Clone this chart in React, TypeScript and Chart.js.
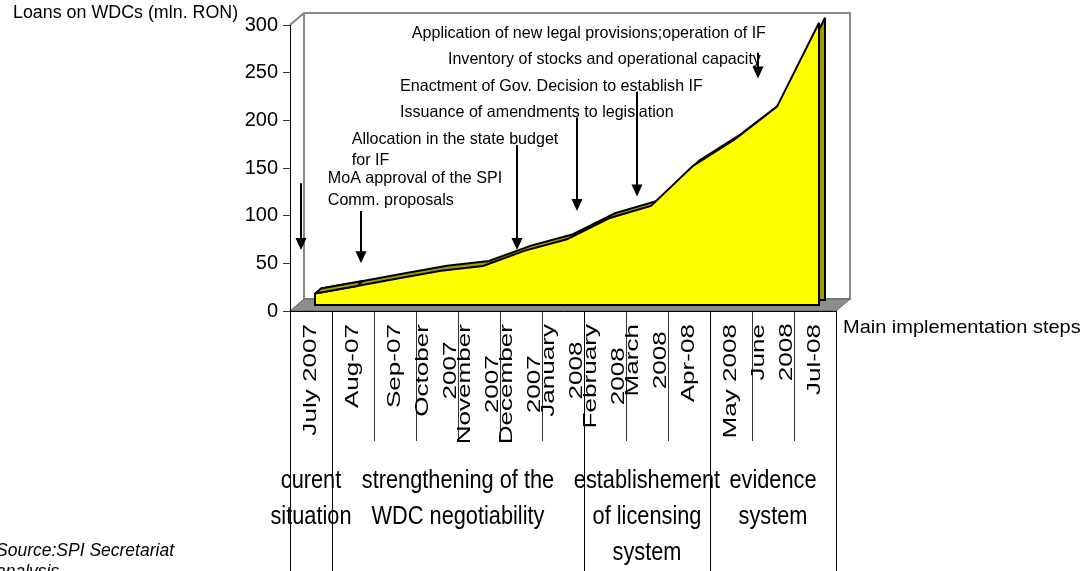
import React, { useEffect, useRef } from 'react';
import { Chart, registerables } from 'chart.js';

const FONT = "'Liberation Sans', Arial, Helvetica, sans-serif";

// ---------- data ----------
const categories: string[][] = [
  ['July 2007'],
  ['Aug-07'],
  ['Sep-07'],
  ['October', '2007'],
  ['November', '2007'],
  ['December', '2007'],
  ['January', '2008'],
  ['February', '2008'],
  ['March', '2008'],
  ['Apr-08'],
  ['May 2008'],
  ['June', '2008'],
  ['Jul-08'],
];
const loanValues: number[] = [12, 20, 28, 36, 41, 57, 69, 91, 104, 146, 174, 208, 296];
const yMin = 0;
const yMax = 300;
const yStep = 50;
const yAxisTitle = 'Loans on WDCs (mln. RON)';
const xAxisTitle = 'Main implementation steps';
const stageLabels: string[][] = [
  ['curent', 'situation'],
  ['strengthening of the', 'WDC negotiability'],
  ['establishement', 'of licensing', 'system'],
  ['evidence', 'system'],
];
const stageBoundaries: number[] = [0, 1, 7, 10, 13];
const noteTexts: string[] = [
  'Application of new legal provisions;operation of IF',
  'Inventory of stocks and operational capacity',
  'Enactment of Gov. Decision to establish IF',
  'Issuance of amendments to legislation',
  'Allocation in the state budget',
  'for IF',
  'MoA approval of the SPI',
  'Comm. proposals',
];
const sourceLines: string[] = ['Source:SPI Secretariat', 'analysis'];

// ---------- layout (in data coordinates: category index, value) ----------
const noteAnchors: [number, number][] = [
  [2.4, 286], [3.26, 259], [2.12, 231], [2.12, 203], [0.97, 175], [0.97, 153], [0.4, 134], [0.4, 111],
];
const arrowSpecs: [number, number, number][] = [
  [-0.245, 134, 64],
  [1.194, 105, 50],
  [4.908, 174, 64],
  [6.339, 203, 105],
  [7.771, 230, 120],
  [10.633, 271, 244],
];

// 3D depth shifts per dataset index: [dx, dy]
const SHIFT: Record<number, [number, number]> = { 0: [4, -6], 1: [10, -11] };
const DEPTH: [number, number] = [14, -12];

const depthPlugin = {
  id: 'depthShift',
  beforeDatasetDraw(chart: any, args: any) {
    const s = SHIFT[args.index];
    if (!s) return;
    chart.ctx.save();
    chart.ctx.translate(s[0], s[1]);
  },
  afterDatasetDraw(chart: any, args: any) {
    const s = SHIFT[args.index];
    if (!s) return;
    const ctx = chart.ctx;
    const pts = args.meta.data;
    const y0 = chart.scales.y.getPixelForValue(0);
    const last = pts[pts.length - 1];
    ctx.beginPath();
    ctx.moveTo(pts[0].x, pts[0].y);
    ctx.lineTo(pts[0].x, y0);
    ctx.lineTo(last.x, y0);
    ctx.lineTo(last.x, last.y);
    ctx.strokeStyle = '#000';
    ctx.lineWidth = 2;
    ctx.stroke();
    ctx.restore();
  },
};

Chart.register(depthPlugin);
Chart.register(...registerables);

function drawText(ctx: CanvasRenderingContext2D, text: string, x: number, y: number, sx: number, align: CanvasTextAlign) {
  ctx.save();
  ctx.translate(x, y);
  ctx.scale(sx, 1);
  ctx.textAlign = align;
  ctx.fillText(text, 0, 0);
  ctx.restore();
}

const wallPlugin = {
  id: 'wall',
  beforeDraw(chart: any) {
    const ctx = chart.ctx as CanvasRenderingContext2D;
    const { left: L, right: R, top: T, bottom: B } = chart.chartArea;
    const [dx, dy] = DEPTH;
    ctx.save();
    // left side wall
    ctx.beginPath();
    ctx.moveTo(L, T);
    ctx.lineTo(L + dx, T + dy);
    ctx.lineTo(L + dx, B + dy);
    ctx.lineTo(L, B);
    ctx.closePath();
    ctx.fillStyle = '#ffffff';
    ctx.fill();
    ctx.beginPath();
    ctx.moveTo(L, T);
    ctx.lineTo(L + dx, T + dy);
    ctx.strokeStyle = '#808080';
    ctx.lineWidth = 2;
    ctx.stroke();
    // back wall
    ctx.strokeStyle = '#8a8a8a';
    ctx.lineWidth = 2;
    ctx.strokeRect(L + dx, T + dy, R - L, B - T);
    // floor
    ctx.beginPath();
    ctx.moveTo(L, B);
    ctx.lineTo(L + dx, B + dy);
    ctx.lineTo(R + dx, B + dy);
    ctx.lineTo(R, B);
    ctx.closePath();
    ctx.fillStyle = '#8c8c8c';
    ctx.fill();
    ctx.strokeStyle = '#606060';
    ctx.lineWidth = 1;
    ctx.stroke();
    ctx.restore();
  },
};

const overlayPlugin = {
  id: 'overlay',
  afterDatasetsDraw(chart: any) {
    // close the ribbon at the left end of the area
    const ctx = chart.ctx as CanvasRenderingContext2D;
    const pts = chart.getDatasetMeta(0).data;
    if (pts.length < 2) return;
    const f = SHIFT[0];
    const b = SHIFT[1];
    ctx.save();
    ctx.beginPath();
    ctx.moveTo(pts[0].x + f[0], pts[0].y + f[1]);
    ctx.lineTo(pts[0].x + b[0], pts[0].y + b[1]);
    ctx.lineTo(pts[1].x + b[0], pts[1].y + b[1]);
    ctx.lineTo(pts[1].x + f[0], pts[1].y + f[1]);
    ctx.closePath();
    ctx.fillStyle = '#a8a800';
    ctx.fill();
    ctx.strokeStyle = '#000';
    ctx.lineWidth = 2;
    ctx.lineJoin = 'round';
    ctx.stroke();
    ctx.restore();
  },
  afterDraw(chart: any) {
    const ctx = chart.ctx as CanvasRenderingContext2D;
    const xs = chart.scales.x;
    const ys = chart.scales.y;
    const area = chart.chartArea;
    ctx.save();
    ctx.fillStyle = '#000';

    // rotated category labels
    ctx.font = `18.5px ${FONT}`;
    ctx.textBaseline = 'middle';
    const labelTop = area.bottom + 13;
    categories.forEach((lines, i) => {
      const x = xs.getPixelForValue(i);
      const w1 = ctx.measureText(lines[0]).width;
      ctx.save();
      ctx.translate(x, labelTop);
      ctx.rotate(-Math.PI / 2);
      ctx.scale(1.41, 1);
      lines.forEach((t, j) => {
        const off = (j - (lines.length - 1) / 2) * 28;
        if (j === 0) {
          ctx.textAlign = 'right';
          ctx.fillText(t, 0, off);
        } else {
          ctx.textAlign = 'center';
          ctx.fillText(t, -w1 / 2, off);
        }
      });
      ctx.restore();
    });

    // stage separator lines
    ctx.strokeStyle = '#000';
    ctx.lineWidth = 1;
    stageBoundaries.forEach((b) => {
      const x = Math.round(xs.getPixelForValue(b - 0.5)) + 0.5;
      ctx.beginPath();
      ctx.moveTo(x, area.bottom);
      ctx.lineTo(x, 571);
      ctx.stroke();
    });

    // stage labels
    ctx.font = `25px ${FONT}`;
    ctx.textBaseline = 'alphabetic';
    stageLabels.forEach((lines, g) => {
      const c = (stageBoundaries[g] + stageBoundaries[g + 1]) / 2 - 0.5;
      const x = xs.getPixelForValue(c);
      lines.forEach((t, j) => {
        drawText(ctx, t, x, area.bottom + 177 + j * 36, 0.87, 'center');
      });
    });

    // notes
    ctx.font = `16.5px ${FONT}`;
    noteTexts.forEach((t, k) => {
      const [ix, v] = noteAnchors[k];
      drawText(ctx, t, xs.getPixelForValue(ix), ys.getPixelForValue(v), 0.975, 'left');
    });

    // arrows
    ctx.lineWidth = 2;
    arrowSpecs.forEach(([ix, v1, v2]) => {
      const x = Math.round(xs.getPixelForValue(ix));
      const y1 = ys.getPixelForValue(v1);
      const y2 = ys.getPixelForValue(v2);
      ctx.beginPath();
      ctx.moveTo(x, y1);
      ctx.lineTo(x, y2 - 10);
      ctx.stroke();
      ctx.beginPath();
      ctx.moveTo(x - 5.5, y2 - 12);
      ctx.lineTo(x + 5.5, y2 - 12);
      ctx.lineTo(x, y2);
      ctx.closePath();
      ctx.fill();
    });

    // axis titles
    ctx.font = `17.5px ${FONT}`;
    drawText(ctx, yAxisTitle, 13, 18, 1.02, 'left');
    ctx.font = `18.5px ${FONT}`;
    drawText(ctx, xAxisTitle, area.right + 7, area.bottom + 22, 1.08, 'left');

    // source
    ctx.font = `italic 17.5px ${FONT}`;
    sourceLines.forEach((t, j) => drawText(ctx, t, -4, 556 + j * 21, 1, 'left'));

    ctx.restore();
  },
};

export default function App() {
  const ref = useRef<HTMLCanvasElement>(null);
  useEffect(() => {
    const canvas = ref.current;
    if (!canvas) return;
    const chart = new Chart(canvas, {
      type: 'line',
      data: {
        labels: categories.map((c) => c.join(' ')),
        datasets: [
          {
            label: 'Loans on WDCs',
            data: loanValues,
            backgroundColor: '#ffff00',
            borderColor: '#000000',
            borderWidth: 2,
            fill: 'origin',
            pointRadius: 0,
            tension: 0,
          },
          {
            label: 'depth',
            data: loanValues,
            backgroundColor: '#9e9e00',
            borderColor: '#000000',
            borderWidth: 2,
            fill: 'origin',
            pointRadius: 0,
            tension: 0,
          },
        ],
      },
      options: {
        animation: false,
        responsive: false,
        events: [],
        layout: { padding: { left: 230, top: 25, right: 255, bottom: 0 } },
        plugins: {
          legend: { display: false },
          tooltip: { enabled: false },
          title: { display: false },
        },
        scales: {
          x: {
            type: 'category',
            offset: true,
            grid: {
              offset: true,
              drawOnChartArea: false,
              drawTicks: true,
              tickLength: 130,
              color: '#333333',
              lineWidth: 1,
            },
            border: { display: true, color: '#000000', width: 1 },
            ticks: { display: false, autoSkip: false },
            afterFit: (s: any) => {
              s.height = 260;
            },
          },
          y: {
            min: yMin,
            max: yMax,
            grid: { drawOnChartArea: false, drawTicks: true, tickLength: 7, color: '#333333' },
            border: { display: true, color: '#000000', width: 1 },
            ticks: {
              stepSize: yStep,
              padding: 5,
              color: '#000000',
              font: { family: FONT, size: 20 },
            },
            afterFit: (s: any) => {
              s.width = 60;
            },
          },
        },
      },
      plugins: [wallPlugin, overlayPlugin],
    });
    return () => chart.destroy();
  }, []);
  return (
    <div style={{ position: 'fixed', left: 0, top: 0, width: 1091, height: 571, background: '#ffffff' }}>
      <canvas ref={ref} width={1091} height={571} style={{ display: 'block', width: 1091, height: 571 }} />
    </div>
  );
}
